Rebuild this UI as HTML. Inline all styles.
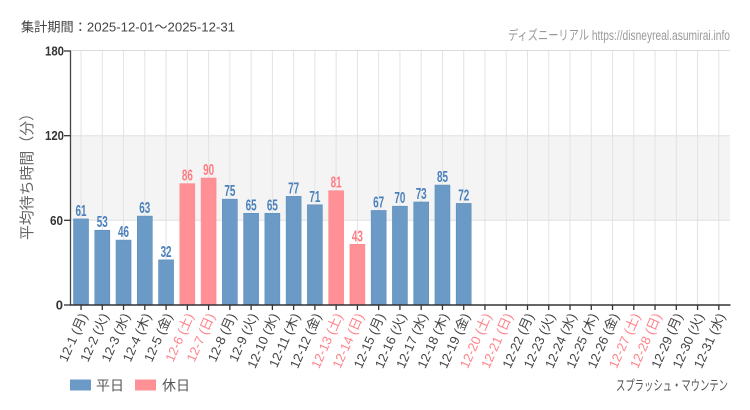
<!DOCTYPE html>
<html><head><meta charset="utf-8">
<style>
html,body{margin:0;padding:0;background:#fff;}
svg{display:block;}
text{font-family:"Liberation Sans","Noto Sans CJK JP",sans-serif;}
.n{font-family:"Liberation Sans Narrow","Liberation Sans","Noto Sans CJK JP",sans-serif;}
</style></head>
<body>
<svg width="750" height="410" viewBox="0 0 750 410" xmlns="http://www.w3.org/2000/svg">
<rect width="750" height="410" fill="#fff"/>
<text x="21" y="31.5" font-size="13" fill="#444" textLength="214" lengthAdjust="spacingAndGlyphs">集計期間：2025-12-01～2025-12-31</text>
<text class="n" x="508" y="40" font-size="13.5" fill="#9a9a9a" textLength="222" lengthAdjust="spacingAndGlyphs">ディズニーリアル https://disneyreal.asumirai.info</text>
<rect x="70.5" y="135.7" width="659.5" height="84.6" fill="#f4f4f4"/>
<g id="grid" stroke="#e3e3e3" stroke-width="1"></g>
<line x1="70.5" y1="50.5" x2="730" y2="50.5" stroke="#dcdcdc"/>
<line x1="70.5" y1="135.7" x2="730" y2="135.7" stroke="#e0e0e0"/>
<line x1="70.5" y1="220.3" x2="730" y2="220.3" stroke="#e0e0e0"/>
<g id="bars"></g>
<line x1="70.5" y1="50.5" x2="70.5" y2="305" stroke="#444" stroke-width="1.3"/>
<line x1="70" y1="305" x2="730.5" y2="305" stroke="#333" stroke-width="1.5"/>
<g stroke="#333" stroke-width="1.3">
<line x1="64" y1="51" x2="70.5" y2="51"/>
<line x1="64" y1="135.7" x2="70.5" y2="135.7"/>
<line x1="64" y1="220.3" x2="70.5" y2="220.3"/>
<line x1="64" y1="305" x2="70.5" y2="305"/>
</g>
<g font-size="13" fill="#333" text-anchor="end" font-weight="bold">
<text x="64" y="55.5" textLength="19" lengthAdjust="spacingAndGlyphs">180</text>
<text x="64" y="140.2" textLength="19" lengthAdjust="spacingAndGlyphs">120</text>
<text x="63" y="224.8" textLength="13" lengthAdjust="spacingAndGlyphs">60</text>
<text x="63" y="309.5">0</text>
</g>
<text transform="translate(32,173) rotate(-90)" font-size="15" fill="#666" text-anchor="middle" textLength="134" lengthAdjust="spacingAndGlyphs">平均待ち時間（分）</text>
<g id="xl"></g>
<rect x="70" y="379.5" width="21" height="11" fill="#6b9ac6"/>
<text x="96" y="390.5" font-size="14" fill="#555">平日</text>
<rect x="135" y="379.5" width="21" height="11" fill="#ff9096"/>
<text x="162" y="390.5" font-size="14" fill="#555">休日</text>
<text x="728" y="390.5" font-size="14" fill="#555" text-anchor="end" textLength="112" lengthAdjust="spacingAndGlyphs">スプラッシュ・マウンテン</text>
</svg>
<script>
(function(){
var NS="http://www.w3.org/2000/svg";
var vals=[61,53,46,63,32,86,90,75,65,65,77,71,81,43,67,70,73,85,72];
var days=["月","火","水","木","金","土","日"];
var grid=document.getElementById("grid"),bars=document.getElementById("bars"),xl=document.getElementById("xl");
var left=70.4,w=21.26;
function el(n,a,p){var e=document.createElementNS(NS,n);for(var k in a)e.setAttribute(k,a[k]);p.appendChild(e);return e;}
for(var i=0;i<31;i++){
 var cx=left+w*(i+0.5);
 var d=days[i%7];
 var hol=(d==="土"||d==="日");
 el("line",{x1:cx,y1:51,x2:cx,y2:305},grid);
 el("line",{x1:cx,y1:305,x2:cx,y2:310,stroke:"#333","stroke-width":"1.3"},bars.parentNode);
 if(i<vals.length){
  var v=vals[i],y=305-v*254/180;
  el("rect",{x:cx-7.5,y:y,width:15,height:305-y,fill:hol?"#ff9096":"#6b9ac6",stroke:hol?"#ff8a90":"#5f8fbd","stroke-width":"0.6"},bars);
  var t=el("text",{x:cx,y:y-3,"font-size":"15.5","font-weight":"bold","text-anchor":"middle",fill:hol?"#ff7b82":"#4a80bb","class":"n",textLength:"11",lengthAdjust:"spacingAndGlyphs"},bars);
  t.textContent=String(v);
 }
 var lab=el("text",{transform:"translate("+(cx+2.5)+",314) rotate(-66)","text-anchor":"end","font-size":"13","dominant-baseline":"central",fill:hol?"#ff828a":"#444"},xl);
 lab.textContent="12-"+(i+1)+" ("+d+")";
}
})();
</script>
</body></html>
